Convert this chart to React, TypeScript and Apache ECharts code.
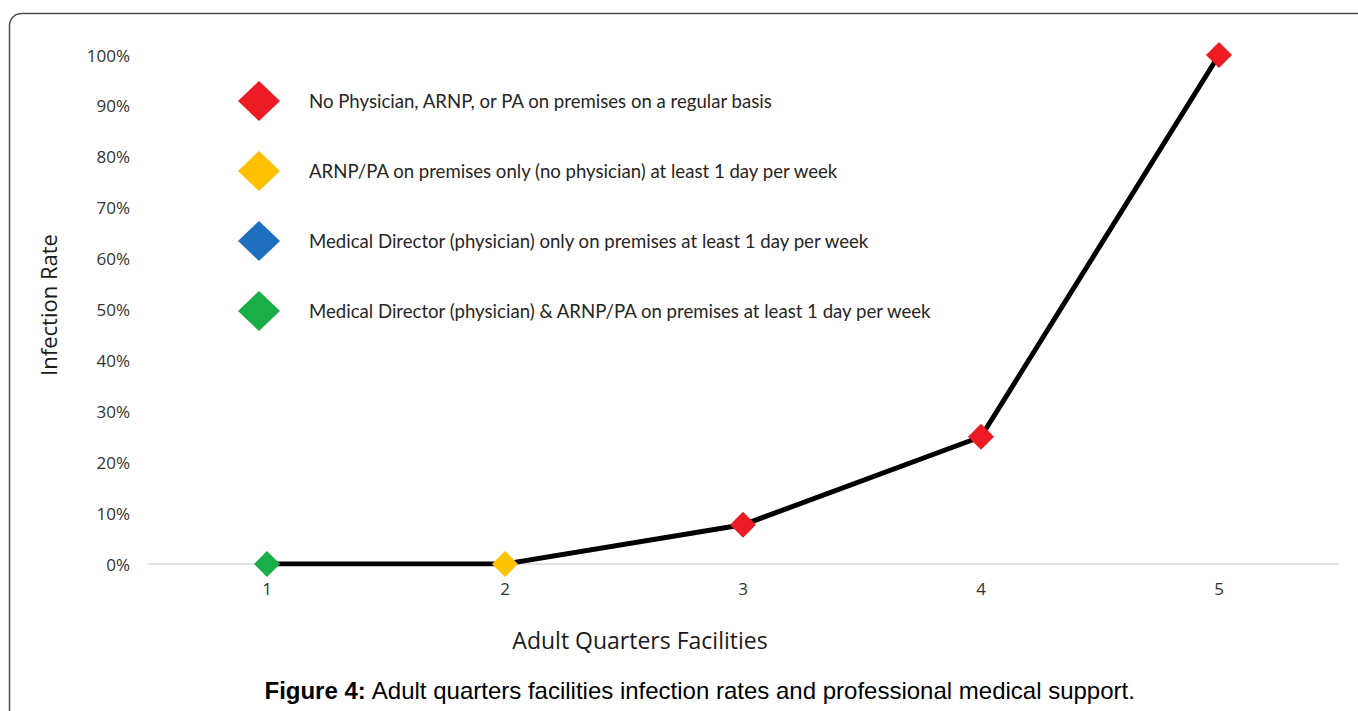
import React, { useEffect, useRef } from "react";
import * as echarts from "echarts";

const categories = ["1", "2", "3", "4", "5"];
const infectionRates = [0, 0, 0.077, 0.25, 1.0];
// index into supportGroups for each facility
const facilityGroup = [3, 1, 0, 0, 0];
const supportGroups = [
  "No Physician, ARNP, or PA on premises on a regular basis",
  "ARNP/PA on premises only (no physician) at least 1 day per week",
  "Medical Director (physician) only on premises at least 1 day per week",
  "Medical Director (physician) & ARNP/PA on premises at least 1 day per week",
];
const groupColors = ["#ED1C24", "#FFC000", "#1F6FBF", "#1AAE48"];
const yTicks = [0, 0.1, 0.2, 0.3, 0.4, 0.5, 0.6, 0.7, 0.8, 0.9, 1.0];

export default function App() {
  const ref = useRef<HTMLDivElement>(null);
  useEffect(() => {
    if (!ref.current) return;
    const chart = echarts.init(ref.current, null, { renderer: "svg" });
    const scatterSeries = supportGroups.map((name, gi) => ({
      name,
      type: "scatter",
      symbol: "diamond",
      symbolSize: 26,
      itemStyle: { color: groupColors[gi], opacity: 1 },
      z: 5,
      data: infectionRates.map((v, i) => (facilityGroup[i] === gi ? v : "-")),
    }));
    chart.setOption({
      animation: false,
      backgroundColor: "#fff",
      grid: { left: 148, right: 20, top: 55, bottom: 147 },
      legend: {
        orient: "vertical",
        left: 233,
        top: 76,
        icon: "diamond",
        itemWidth: 42,
        itemHeight: 40,
        itemGap: 30,
        selectedMode: false,
        data: supportGroups,
        itemStyle: { opacity: 1 },
        textStyle: {
          fontFamily: "Lato",
          fontSize: 18.6,
          color: "#262626",
          padding: [0, 0, 0, 24],
        },
      },
      xAxis: {
        type: "category",
        data: categories,
        boundaryGap: true,
        axisLine: { lineStyle: { color: "#d9d9d9", width: 1.5 } },
        axisTick: { show: false },
        axisLabel: {
          fontFamily: "Open Sans",
          fontSize: 17,
          color: "#333",
          margin: 16,
        },
      },
      yAxis: {
        type: "value",
        min: 0,
        max: 1,
        interval: 0.1,
        splitLine: { show: false },
        axisLine: { show: false },
        axisTick: { show: false },
        axisLabel: {
          fontFamily: "Open Sans",
          fontSize: 17,
          color: "#333",
          margin: 18,
          formatter: (v: number) =>
            yTicks.some((t) => Math.abs(t - v) < 1e-9) ? Math.round(v * 100) + "%" : "",
        },
      },
      graphic: [
        {
          type: "rect",
          shape: { x: 9.5, y: 13.5, width: 1400, height: 760, r: 12 },
          style: { fill: "none", stroke: "#4d4d4d", lineWidth: 1.5 },
          silent: true,
        },
        {
          type: "text",
          x: 48,
          y: 305,
          rotation: Math.PI / 2,
          style: {
            text: "Infection Rate",
            font: "22px 'Open Sans'",
            fill: "#1a1a1a",
            align: "center",
            verticalAlign: "middle",
          },
        },
        {
          type: "text",
          x: 640,
          y: 640,
          style: {
            text: "Adult Quarters Facilities",
            font: "23px 'Open Sans'",
            fill: "#1a1a1a",
            align: "center",
            verticalAlign: "middle",
          },
        },
        {
          type: "text",
          x: 700,
          y: 690,
          style: {
            text: "{b|Figure 4:} Adult quarters facilities infection rates and professional medical support.",
            font: "24px 'Liberation Sans'",
            fill: "#000",
            align: "center",
            verticalAlign: "middle",
            rich: {
              b: { font: "bold 24px 'Liberation Sans'", fill: "#000" },
            },
          },
        },
      ],
      series: [
        {
          name: "rate",
          type: "line",
          data: infectionRates,
          showSymbol: false,
          symbol: "none",
          lineStyle: { color: "#000", width: 5 },
          z: 2,
        },
        ...scatterSeries,
      ],
    });
    return () => chart.dispose();
  }, []);
  return (
    <div
      ref={ref}
      style={{ position: "fixed", left: 0, top: 0, width: 1358, height: 711 }}
    />
  );
}
